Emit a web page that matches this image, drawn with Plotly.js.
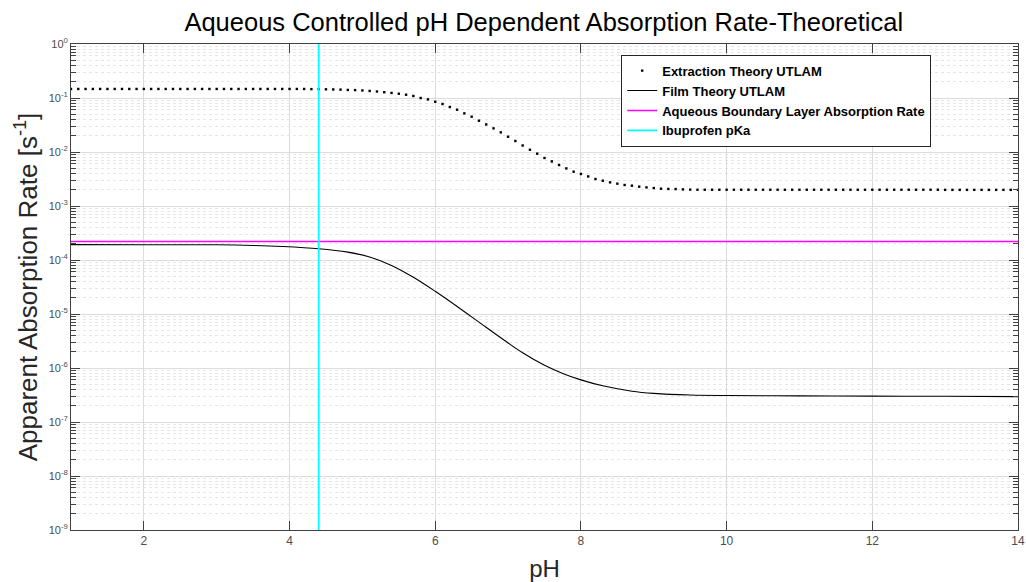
<!DOCTYPE html>
<html>
<head>
<meta charset="utf-8">
<script src="https://cdn.plot.ly/plotly-3.0.1.min.js"></script>
<style>html,body{margin:0;padding:0;background:#fff;}#chart{width:1026px;height:582px;}</style>
</head>
<body>
<div id="chart"></div>
<script>
// Extraction Theory UTLAM (dotted, one marker every 0.1 pH)
const extractionPH = [
 1.0,1.1,1.2,1.3,1.4,1.5,1.6,1.7,1.8,1.9,
 2.0,2.1,2.2,2.3,2.4,2.5,2.6,2.7,2.8,2.9,
 3.0,3.1,3.2,3.3,3.4,3.5,3.6,3.7,3.8,3.9,
 4.0,4.1,4.2,4.3,4.4,4.5,4.6,4.7,4.8,4.9,
 5.0,5.1,5.2,5.3,5.4,5.5,5.6,5.7,5.8,5.9,
 6.0,6.1,6.2,6.3,6.4,6.5,6.6,6.7,6.8,6.9,
 7.0,7.1,7.2,7.3,7.4,7.5,7.6,7.7,7.8,7.9,
 8.0,8.1,8.2,8.3,8.4,8.5,8.6,8.7,8.8,8.9,
 9.0,9.1,9.2,9.3,9.4,9.5,9.6,9.7,9.8,9.9,
 10.0,10.1,10.2,10.3,10.4,10.5,10.6,10.7,10.8,10.9,
 11.0,11.1,11.2,11.3,11.4,11.5,11.6,11.7,11.8,11.9,
 12.0,12.1,12.2,12.3,12.4,12.5,12.6,12.7,12.8,12.9,
 13.0,13.1,13.2,13.3,13.4,13.5,13.6,13.7,13.8,13.9,
 14.0];
const extractionRate = [
 0.147,0.147,0.147,0.147,0.147,0.147,0.147,0.147,0.147,0.147,
 0.147,0.147,0.147,0.147,0.147,0.147,0.147,0.147,0.147,0.147,
 0.147,0.147,0.147,0.147,0.147,0.147,0.147,0.147,0.147,0.147,
 0.147,0.147,0.147,0.146,0.146,0.145,0.144,0.143,0.141,0.140,
 0.138,0.135,0.132,0.128,0.124,0.120,0.115,0.109,0.100,0.0942,
 0.0853,0.0774,0.0681,0.0607,0.0519,0.0451,0.0380,0.0324,0.0274,0.0231,
 0.0192,0.0160,0.0132,0.0110,0.00931,0.00774,0.00670,0.00574,0.00497,0.00432,
 0.00392,0.00353,0.00316,0.00294,0.00274,0.00259,0.00245,0.00238,0.00228,0.00221,
 0.00215,0.00209,0.00207,0.00206,0.00203,0.00201,0.00200,0.00200,0.00200,0.00200,
 0.00200,0.00200,0.00200,0.00200,0.00200,0.00200,0.00200,0.00200,0.00200,0.00200,
 0.00200,0.00200,0.00200,0.00200,0.00200,0.00200,0.00200,0.00200,0.00200,0.00200,
 0.00200,0.00200,0.00200,0.00200,0.00200,0.00200,0.00200,0.00200,0.00200,0.00200,
 0.00199,0.00199,0.00199,0.00199,0.00199,0.00199,0.00199,0.00199,0.00199,0.00199,
 0.00199];

// Film Theory UTLAM (solid)
const filmPH   = [1.0, 2.0, 3.0, 3.5, 3.9, 4.4, 4.8, 5.1, 5.4, 5.7, 6.0, 6.3, 6.6, 6.9, 7.2, 7.5, 7.75, 8.0, 8.3, 8.7, 9.0, 9.5, 10.0, 11.0, 12.0, 13.0, 14.0];
const filmRate = [1.93e-4, 1.92e-4, 1.91e-4, 1.86e-4, 1.78e-4, 1.62e-4, 1.40e-4, 1.14e-4, 7.94e-5, 4.79e-5, 2.63e-5, 1.38e-5, 7.08e-6, 3.63e-6, 1.91e-6, 1.12e-6, 7.94e-7, 6.03e-7, 4.68e-7, 3.72e-7, 3.39e-7, 3.16e-7, 3.09e-7, 3.05e-7, 3.02e-7, 2.99e-7, 2.95e-7];

// Aqueous Boundary Layer Absorption Rate (constant)
const aqueousPH   = [1, 14];
const aqueousRate = [2.19e-4, 2.19e-4];

// Ibuprofen pKa (vertical line)
const pKa = 4.4;
const pKaRange = [1e-9, 1];

const yTickVals = [1e-9, 1e-8, 1e-7, 1e-6, 1e-5, 1e-4, 1e-3, 1e-2, 1e-1, 1];
const yTickText = ['10<sup>-9</sup>','10<sup>-8</sup>','10<sup>-7</sup>','10<sup>-6</sup>','10<sup>-5</sup>','10<sup>-4</sup>','10<sup>-3</sup>','10<sup>-2</sup>','10<sup>-1</sup>','10<sup>0</sup>'];
const xTickVals = [2, 4, 6, 8, 10, 12, 14];

const minorVals = [];
for (let d = -9; d < 0; d++) for (let k = 2; k <= 9; k++) minorVals.push(k * Math.pow(10, d));

const FONT = 'Liberation Sans, Arial, Helvetica, sans-serif';
const AX = '#404040';

const traces = [
  {x: extractionPH, y: extractionRate, type: 'scatter', mode: 'markers', name: 'Extraction Theory UTLAM',
   marker: {symbol: 'square', size: 2.4, color: '#000'}},
  {x: filmPH, y: filmRate, type: 'scatter', mode: 'lines', name: 'Film Theory UTLAM',
   line: {color: '#000', width: 1.1, shape: 'spline', smoothing: 1}},
  {x: aqueousPH, y: aqueousRate, type: 'scatter', mode: 'lines', name: 'Aqueous Boundary Layer Absorption Rate',
   line: {color: '#ff00ff', width: 1.5}},
  {x: [pKa, pKa], y: pKaRange, type: 'scatter', mode: 'lines', name: 'Ibuprofen pKa',
   line: {color: '#00ffff', width: 1.8}}
];

const layout = {
  width: 1026, height: 582,
  margin: {l: 71, r: 8, t: 44, b: 52},
  paper_bgcolor: '#fff', plot_bgcolor: '#fff',
  font: {family: FONT, color: '#262626'},
  showlegend: true,
  title: {text: 'Aqueous Controlled pH Dependent Absorption Rate-Theoretical',
          font: {family: FONT, size: 25.5, color: '#000'}, x: 0.53, xanchor: 'center', y: 0.962, yanchor: 'middle'},
  xaxis: {
    range: [1, 14], tickmode: 'array', tickvals: xTickVals,
    ticks: 'inside', ticklen: 9, tickcolor: AX, showline: true, linecolor: AX, linewidth: 1, mirror: 'ticks',
    showgrid: true, gridcolor: '#dcdcdc', gridwidth: 1, zeroline: false,
    tickfont: {family: FONT, size: 12, color: '#4d4d4d'},
    title: {text: 'pH', font: {family: FONT, size: 24, color: '#262626'}, standoff: 12}
  },
  yaxis: {
    type: 'log', range: [-9, 0], tickmode: 'array', tickvals: yTickVals, ticktext: yTickText,
    ticks: 'inside', ticklen: 9, tickcolor: AX, showline: true, linecolor: AX, linewidth: 1, mirror: 'ticks',
    showgrid: true, gridcolor: '#dcdcdc', gridwidth: 1, zeroline: false,
    tickfont: {family: FONT, size: 11, color: '#4d4d4d'},
    minor: {tickmode: 'array', tickvals: minorVals, ticks: 'inside', ticklen: 5, tickcolor: AX,
            showgrid: true, gridcolor: '#e6e6e6', griddash: 'dot', gridwidth: 1},
    title: {text: 'Apparent Absorption Rate [s<sup>-1</sup>]', font: {family: FONT, size: 26, color: '#262626'}, standoff: 3}
  },
  legend: {x: 0.581, y: 0.978, xanchor: 'left', yanchor: 'top', bgcolor: '#fff', bordercolor: '#262626', borderwidth: 1,
           font: {family: FONT, size: 13, color: '#000', weight: 'bold'}, tracegroupgap: 0, itemwidth: 30}
};

Plotly.newPlot('chart', traces, layout, {staticPlot: true, displayModeBar: false});
</script>
</body>
</html>
